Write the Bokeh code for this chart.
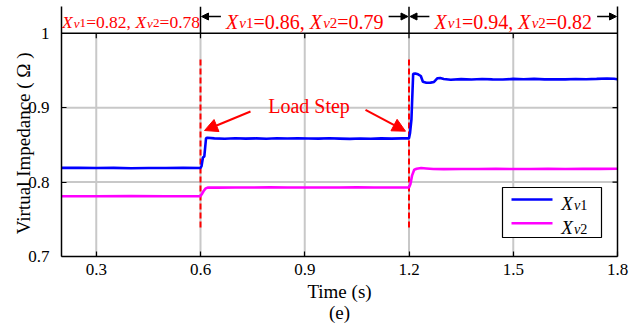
from bokeh.plotting import figure
from bokeh.models import (Range1d, LinearAxis, FixedTicker, Label, Arrow, NormalHead, Title)
from bokeh.embed import file_html
from bokeh.resources import INLINE

# ---------------- data ----------------
t_v1 = [0.2, 0.25, 0.3, 0.35, 0.4, 0.45, 0.5, 0.55, 0.6, 0.603, 0.607, 0.611, 0.616, 0.62,
        0.64, 0.67, 0.7, 0.73, 0.76, 0.79, 0.82, 0.85, 0.88, 0.91, 0.94, 0.97, 1.0, 1.03,
        1.06, 1.09, 1.12, 1.15, 1.18, 1.2, 1.203, 1.207, 1.212, 1.218, 1.226, 1.234, 1.240,
        1.25, 1.262, 1.272, 1.282, 1.29, 1.30, 1.32, 1.35, 1.38, 1.41, 1.44, 1.47, 1.50,
        1.53, 1.56, 1.59, 1.62, 1.65, 1.68, 1.71, 1.74, 1.77, 1.79, 1.80]
x_v1 = [0.819, 0.8192, 0.8188, 0.819, 0.8186, 0.8189, 0.8188, 0.8191, 0.8189, 0.8215, 0.833,
        0.8345, 0.8592, 0.8595, 0.8587, 0.8582, 0.8588, 0.8583, 0.8587, 0.8582, 0.8589,
        0.8585, 0.8588, 0.8586, 0.8583, 0.8588, 0.8584, 0.8580, 0.8586, 0.8582, 0.8587,
        0.8584, 0.8587, 0.8587, 0.866, 0.884, 0.9455, 0.9458, 0.9448, 0.9425, 0.9348,
        0.9335, 0.9336, 0.9345, 0.9395, 0.9398, 0.9385, 0.9375, 0.9383, 0.9378, 0.9385,
        0.9380, 0.9377, 0.9386, 0.9381, 0.9386, 0.9380, 0.9382, 0.9379, 0.9384, 0.9381,
        0.9386, 0.9392, 0.9388, 0.9382]
t_v2 = [0.2, 0.3, 0.4, 0.5, 0.6, 0.604, 0.609, 0.615, 0.622, 0.65, 0.7, 0.75, 0.8, 0.85,
        0.9, 0.95, 1.0, 1.05, 1.1, 1.15, 1.2, 1.204, 1.209, 1.215, 1.222, 1.235, 1.25,
        1.27, 1.3, 1.35, 1.4, 1.45, 1.5, 1.55, 1.6, 1.65, 1.7, 1.75, 1.8]
x_v2 = [0.781, 0.781, 0.7812, 0.7809, 0.7811, 0.784, 0.788, 0.7915, 0.7927, 0.7925, 0.7928,
        0.7926, 0.7929, 0.7927, 0.7926, 0.7928, 0.7927, 0.7929, 0.7926, 0.7928, 0.7929,
        0.797, 0.809, 0.8165, 0.8178, 0.8188, 0.8183, 0.8176, 0.8174, 0.8176, 0.8175,
        0.8177, 0.8176, 0.8175, 0.8177, 0.8176, 0.8178, 0.8177, 0.8178]

x_ticks = [0.3, 0.6, 0.9, 1.2, 1.5, 1.8]
y_ticks = [0.7, 0.8, 0.9, 1.0]
step_times = [0.6, 1.2]
segment_edges = [0.2, 0.6, 1.2, 1.8]
seg_v1 = ["0.82", "0.86", "0.94"]
seg_v2 = ["0.78", "0.79", "0.82"]
series_names = [("X", "v1"), ("X", "v2")]

# ---------------- layout constants ----------------
W, H = 632, 329
BL, BR, BT, BB = 61, 15, 6, 73
FW = W - BL - BR
X0, X1 = 0.2, 1.8
Y0, PLOT_TOP = 0.7, 1.0
TOP_PX, BOTTOM_PX = 32.7, H - BB        # page rows of y=1.0 and y=0.7
px_x = (X1 - X0) / FW
px_y = (PLOT_TOP - Y0) / (BOTTOM_PX - TOP_PX)
Y1 = PLOT_TOP + (TOP_PX - BT) * px_y     # strip above the plot box
LIFT = 5                                  # baseline correction for labels, px

FONT = "Liberation Serif"
RED = "#ff0000"
BLUE = "#0000ff"
MAGENTA = "#ff00ff"
GRID = "#c8c8c8"


def dx(px):
    return X0 + (px - BL) * px_x


def dy(py):
    return PLOT_TOP - (py - TOP_PX) * px_y


p = figure(width=W, height=H, output_backend="svg", toolbar_location=None,
           x_range=Range1d(X0, X1), y_range=Range1d(Y0, Y1),
           min_border_left=BL, min_border_right=BR, min_border_top=BT,
           min_border_bottom=BB)
p.outline_line_color = None
p.xgrid.visible = False
p.ygrid.visible = False

p.xaxis.ticker = FixedTicker(ticks=x_ticks)
p.yaxis.ticker = FixedTicker(ticks=y_ticks)
p.yaxis.major_label_overrides = {1.0: "1", 1: "1"}
for ax in (p.xaxis[0], p.yaxis[0]):
    ax.axis_line_color = "black"
    ax.axis_line_width = 1.5
    ax.major_tick_line_color = "black"
    ax.major_tick_line_width = 1.2
    ax.major_tick_in = 5
    ax.major_tick_out = 0
    ax.minor_tick_line_color = None
    ax.major_label_text_font = FONT
    ax.major_label_text_font_size = "17px"
    ax.major_label_text_color = "black"
    ax.axis_label_text_font = FONT
    ax.axis_label_text_font_size = "19px"
    ax.axis_label_text_font_style = "normal"
    ax.axis_label_text_color = "black"
p.yaxis.major_label_standoff = 12
p.xaxis.major_label_standoff = 7
p.xaxis.axis_label = "Time (s)"
p.xaxis.axis_label_standoff = 3
# trailing no-break spaces move the visible title down to the middle of the plot box
p.yaxis.axis_label = "Virtual Impedance ( \u03a9 )" + "\u00a0" * 5
p.yaxis.axis_label_standoff = -9
p.add_layout(LinearAxis(ticker=FixedTicker(ticks=[]), axis_line_color="black",
                        axis_line_width=1.5, major_tick_line_color=None,
                        minor_tick_line_color=None), "right")
p.add_layout(Title(text="(e)", align="center", text_font=FONT, text_font_size="19px",
                   text_font_style="normal", text_color="black", standoff=-10), "below")

# grid (stops at the plot box top)
n = len(x_ticks) - 1
p.segment(x0=x_ticks[:-1], y0=[Y0] * n, x1=x_ticks[:-1], y1=[PLOT_TOP] * n,
          line_color=GRID, line_width=2)
p.segment(x0=[X0] * 2, y0=y_ticks[1:3], x1=[X1] * 2, y1=y_ticks[1:3],
          line_color=GRID, line_width=2)
# top border, top/right inward ticks, strip separators
p.segment(x0=[X0], y0=[PLOT_TOP], x1=[X1], y1=[PLOT_TOP], line_color="black", line_width=1.5)
p.segment(x0=x_ticks[:-1], y0=[PLOT_TOP] * n, x1=x_ticks[:-1],
          y1=[PLOT_TOP - 5 * px_y] * n, line_color="black", line_width=1.2)
p.segment(x0=[X1] * 2, y0=y_ticks[1:3], x1=[X1 - 5 * px_x] * 2, y1=y_ticks[1:3],
          line_color="black", line_width=1.2)
p.segment(x0=segment_edges[1:-1], y0=[PLOT_TOP] * 2, x1=segment_edges[1:-1], y1=[Y1] * 2,
          line_color="black", line_width=1.5)

# load-step dashed lines
p.segment(x0=step_times, y0=[dy(227)] * 2, x1=step_times, y1=[dy(59)] * 2,
          line_color=RED, line_width=2, line_dash="6 3")

# series
p.line(t_v1, x_v1, line_color=BLUE, line_width=2.6)
p.line(t_v2, x_v2, line_color=MAGENTA, line_width=2.6)

# ---------------- composite (subscripted) text ----------------
WID = {"0": .5, "1": .5, "2": .5, "3": .5, "4": .5, "5": .5, "6": .5, "7": .5, "8": .5,
       "9": .5, ".": .25, ",": .25, " ": .25, "=": .564}
WID_IT = {"X": .611, "v": .444}


def text_width(txt, italic):
    tab = WID_IT if italic else WID
    return sum(tab.get(c, .5) for c in txt)


def compose(parts, size):
    out, x = [], 0.0
    for txt, italic, sub in parts:
        fs = size * 0.75 if sub else size
        out.append((txt, italic, fs, x, -1.5 if sub else 0.0))
        x += text_width(txt, italic) * fs
        if italic and not sub:
            x += 0.06 * size
    return out, x


def add_pieces(pieces, x, y, x_shift, color):
    for txt, italic, fs, ox, oy in pieces:
        p.add_layout(Label(x=x, y=y, x_offset=x_shift + ox, y_offset=oy + LIFT,
                           text=txt.rstrip(), text_font=FONT, text_font_size=f"{fs:.1f}px",
                           text_font_style="italic" if italic else "normal",
                           text_color=color, text_align="left",
                           text_baseline="alphabetic", level="overlay"))


def name_parts(name):
    base, sub = name
    return [(base, True, False), (sub[0], True, True), (sub[1:], False, True)]


strip_base = dy(26)
strip_arrow_y = dy(16)
for i in range(3):
    size = 17.5 if i == 0 else 20
    parts = (name_parts(series_names[0]) + [("=" + seg_v1[i] + ", ", False, False)] +
             name_parts(series_names[1]) + [("=" + seg_v2[i], False, False)])
    pieces, tw = compose(parts, size)
    cx = 0.5 * (segment_edges[i] + segment_edges[i + 1])
    add_pieces(pieces, cx, strip_base, -tw / 2, RED)
    if i > 0:
        half = (tw / 2 + 5) * px_x
        for xs, xe in [(cx - half, segment_edges[i] + px_x),
                       (cx + half, segment_edges[i + 1] - px_x)]:
            p.add_layout(Arrow(end=NormalHead(size=7, fill_color="black", line_color="black"),
                               x_start=xs, y_start=strip_arrow_y, x_end=xe,
                               y_end=strip_arrow_y, line_color="black", line_width=1.3))

# Load Step label and arrows
p.add_layout(Label(x=dx(308.5), y=dy(110), y_offset=LIFT, text="Load Step", text_font=FONT,
                   text_font_size="20px", text_color=RED, text_align="center",
                   text_baseline="alphabetic"))
for (xs, ys, xe, ye) in [(250, 111, 204, 130), (365, 109.3, 405, 130.7)]:
    p.add_layout(Arrow(end=NormalHead(size=13, fill_color=RED, line_color=RED),
                       x_start=dx(xs), y_start=dy(ys), x_end=dx(xe), y_end=dy(ye),
                       line_color=RED, line_width=2))

# legend (drawn by hand so the names can carry subscripts)
p.quad(left=[dx(502)], right=[dx(601)], top=[dy(187)], bottom=[dy(237)],
       fill_color="white", line_color="black", line_width=1.2)
for k, (col, name) in enumerate(zip([BLUE, MAGENTA], series_names)):
    yk = 199 + 23.7 * k
    p.segment(x0=[dx(511)], y0=[dy(yk)], x1=[dx(552)], y1=[dy(yk)], line_color=col,
              line_width=2.6)
    pieces, tw = compose(name_parts(name), 19)
    add_pieces(pieces, dx(560.7), dy(yk + 9), 0, "black")

open("out.html", "w").write(file_html(p, INLINE))
